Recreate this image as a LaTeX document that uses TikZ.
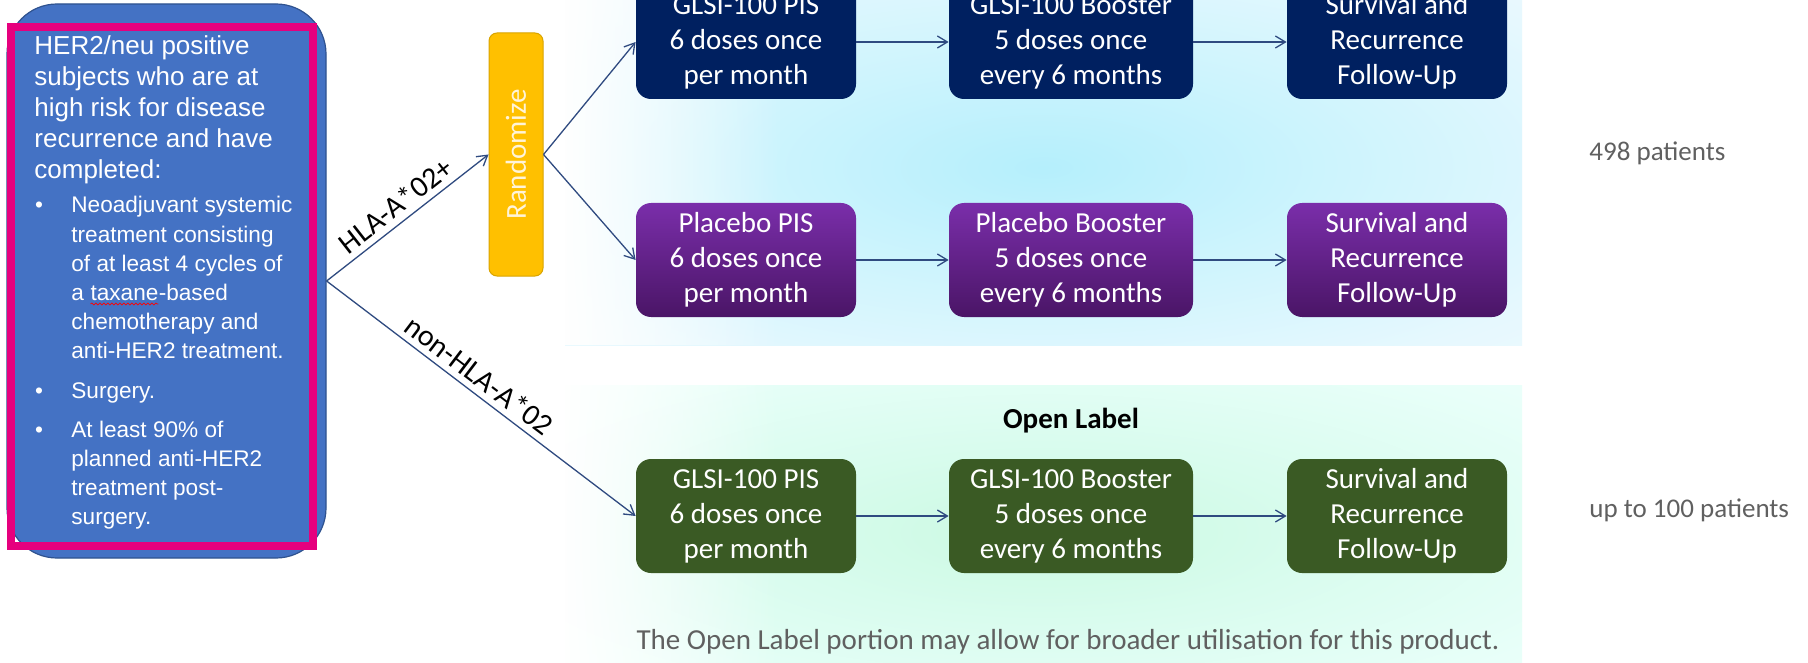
\documentclass[tikz,border=0pt]{standalone}
\usepackage{fontspec}
\setmainfont{Carlito}
\newfontfamily\arialf{Liberation Sans}
\usetikzlibrary{arrows.meta,decorations.pathmorphing,fadings}

\definecolor{critblue}{HTML}{4472C4}
\definecolor{critborder}{HTML}{2F528F}
\definecolor{pinkframe}{HTML}{E6007E}
\definecolor{randfill}{HTML}{FFC000}
\definecolor{randborder}{HTML}{D9A400}
\definecolor{randtext}{HTML}{FFF4D9}
\definecolor{navybox}{HTML}{002060}
\definecolor{purpletop}{HTML}{7A2EAA}
\definecolor{purplebot}{HTML}{4A1566}
\definecolor{greenbox}{HTML}{3A5A24}
\definecolor{arrowcol}{HTML}{2F4A80}
\definecolor{greytext}{HTML}{606060}
\definecolor{upA}{HTML}{B5EFFC}
\definecolor{upB}{HTML}{CDF4FD}
\definecolor{upC}{HTML}{E6F8FE}
\definecolor{upD}{HTML}{F6FCFF}
\definecolor{loA}{HTML}{CBF9E2}
\definecolor{loB}{HTML}{D9FCEE}
\definecolor{loC}{HTML}{E8FFF9}
\definecolor{loD}{HTML}{F6FFFF}

\pgfdeclareradialshading{upperpanel}{\pgfpoint{0bp}{0bp}}{color(0bp)=(upA); color(15bp)=(upB); color(32bp)=(upC); color(50bp)=(upD)}
\pgfdeclareradialshading{lowerpanel}{\pgfpoint{0bp}{0bp}}{color(0bp)=(loA); color(15bp)=(loB); color(32bp)=(loC); color(50bp)=(loD)}
\tikzfading[name=leftfade, left color=transparent!0, right color=transparent!100]

\newcommand{\squig}[1]{\tikz[baseline=(sqw.base)]{\node[inner sep=0pt, outer sep=0pt, text=white] (sqw) {#1};\draw[draw=red, line width=0.35pt, decorate, decoration={snake, amplitude=0.5pt, segment length=2pt}] ([yshift=-1.7pt]sqw.base west) -- ([yshift=-1.7pt]sqw.base east);}}

\tikzset{
  stage/.style={rounded corners=7.5pt, minimum height=57pt, text=white, align=center,
    font=\fontsize{14.5}{17.5}\selectfont, inner sep=0pt,
    execute at begin node={\rule{0pt}{18pt}}},
  navy/.style={stage, fill=navybox},
  purp/.style={stage, top color=purpletop, bottom color=purplebot},
  grn/.style={stage, fill=greenbox},
  flow/.style={draw=arrowcol, line width=0.65pt, -{Straight Barb[length=5pt,width=6pt]}},
  armlabel/.style={sloped, above, font=\fontsize{15}{18}\selectfont, inner sep=3pt, text=black},
  note/.style={text=greytext, font=\fontsize{13.5}{16}\selectfont, anchor=west, inner sep=0pt},
  crittext/.style={anchor=base west, inner sep=0pt, text=white},
  bulletdot/.style={anchor=base, inner sep=0pt, text=white, font=\arialf\fontsize{11.3}{14}\selectfont}
}

\begin{document}
\begin{tikzpicture}[x=0.5pt,y=-0.5pt]
\useasboundingbox (0,0) rectangle (1808,663);
\clip (0,0) rectangle (1808,663);
\fill[white] (0,0) rectangle (1808,663);

% background panels
\shade[shading=upperpanel] (565,-10) rectangle (1522,345);
\fill[white, path fading=leftfade] (560,-10) rectangle (780,345);
\shade[shading=lowerpanel] (565,385) rectangle (1522,680);
\fill[white, path fading=leftfade] (560,385) rectangle (780,680);

% criteria box
\node[draw=critborder, fill=critblue, rounded corners=25pt, minimum width=159.5pt,
      minimum height=277pt, inner sep=0pt, line width=0.6pt] (crit) at (166.5,281) {};
\node[draw=pinkframe, line width=4pt, minimum width=151pt, minimum height=259.5pt,
      inner sep=0pt] (frame) at (162,286.5) {};

\node[crittext] (head) at (34,55) {\parbox[t]{125pt}{\arialf\fontsize{13}{15.5}\selectfont
  HER2/neu positive\\subjects who are at\\high risk for disease\\recurrence and have\\completed:}};

\node[bulletdot] (dot1) at (39,213) {•};
\node[crittext] (item1) at (71,213) {\parbox[t]{115pt}{\arialf\fontsize{11.3}{14.6}\selectfont
  Neoadjuvant systemic\\treatment consisting\\of at least 4 cycles of\\a \squig{taxane}-based\\chemotherapy and\\anti-HER2 treatment.}};
\node[bulletdot] (dot2) at (39,398) {•};
\node[crittext] (item2) at (71,398) {\parbox[t]{115pt}{\arialf\fontsize{11.3}{14.6}\selectfont Surgery.}};
\node[bulletdot] (dot3) at (39,437) {•};
\node[crittext] (item3) at (71,437) {\parbox[t]{115pt}{\arialf\fontsize{11.3}{14.6}\selectfont
  At least 90\% of\\planned anti-HER2\\treatment post-\\surgery.}};

% randomize
\node[draw=randborder, fill=randfill, rounded corners=4pt, minimum width=27pt,
      minimum height=121.5pt, inner sep=0pt, line width=0.5pt] (rand) at (516,154.5) {};
\node[rotate=90, text=randtext, font=\fontsize{14.5}{17}\selectfont, inner sep=0pt] (randlbl) at (rand.center) {Randomize};

% stage boxes
\node[navy, minimum width=110pt] (gpis) at (746,42) {GLSI-100 PIS\\6 doses once\\per month};
\node[navy, minimum width=122pt] (gboost) at (1071,42) {GLSI-100 Booster\\5 doses once\\every 6 months};
\node[navy, minimum width=110pt] (gfu) at (1397,42) {Survival and\\Recurrence\\Follow-Up};

\node[purp, minimum width=110pt] (ppis) at (746,260) {Placebo PIS\\6 doses once\\per month};
\node[purp, minimum width=122pt] (pboost) at (1071,260) {Placebo Booster\\5 doses once\\every 6 months};
\node[purp, minimum width=110pt] (pfu) at (1397,260) {Survival and\\Recurrence\\Follow-Up};

\node[grn, minimum width=110pt] (opis) at (746,516) {GLSI-100 PIS\\6 doses once\\per month};
\node[grn, minimum width=122pt] (oboost) at (1071,516) {GLSI-100 Booster\\5 doses once\\every 6 months};
\node[grn, minimum width=110pt] (ofu) at (1397,516) {Survival and\\Recurrence\\Follow-Up};

% texts
\node[font=\bfseries\fontsize{14.5}{17}\selectfont, text=black] (oltitle) at (1071,421) {Open Label};
\node[anchor=base, text=greytext, font=\fontsize{14.5}{17}\selectfont, inner sep=0pt] (olnote) at (1068,649)
  {The Open Label portion may allow for broader utilisation for this product.};
\node[note] (n498) at (1589,153) {498 patients};
\node[note] (n100) at (1589,510) {up to 100 patients};

% connectors
\draw[flow] (crit.east) -- node[armlabel, pos=0.49] {HLA-A*02+} (rand.west);
\draw[flow] (crit.east) -- node[armlabel, pos=0.46] {non-HLA-A*02} (opis.west);
\draw[flow] (rand.east) -- (gpis.west);
\draw[flow] (rand.east) -- (ppis.west);
\draw[flow] (gpis.east) -- (gboost.west);
\draw[flow] (gboost.east) -- (gfu.west);
\draw[flow] (ppis.east) -- (pboost.west);
\draw[flow] (pboost.east) -- (pfu.west);
\draw[flow] (opis.east) -- (oboost.west);
\draw[flow] (oboost.east) -- (ofu.west);
\end{tikzpicture}
\end{document}
